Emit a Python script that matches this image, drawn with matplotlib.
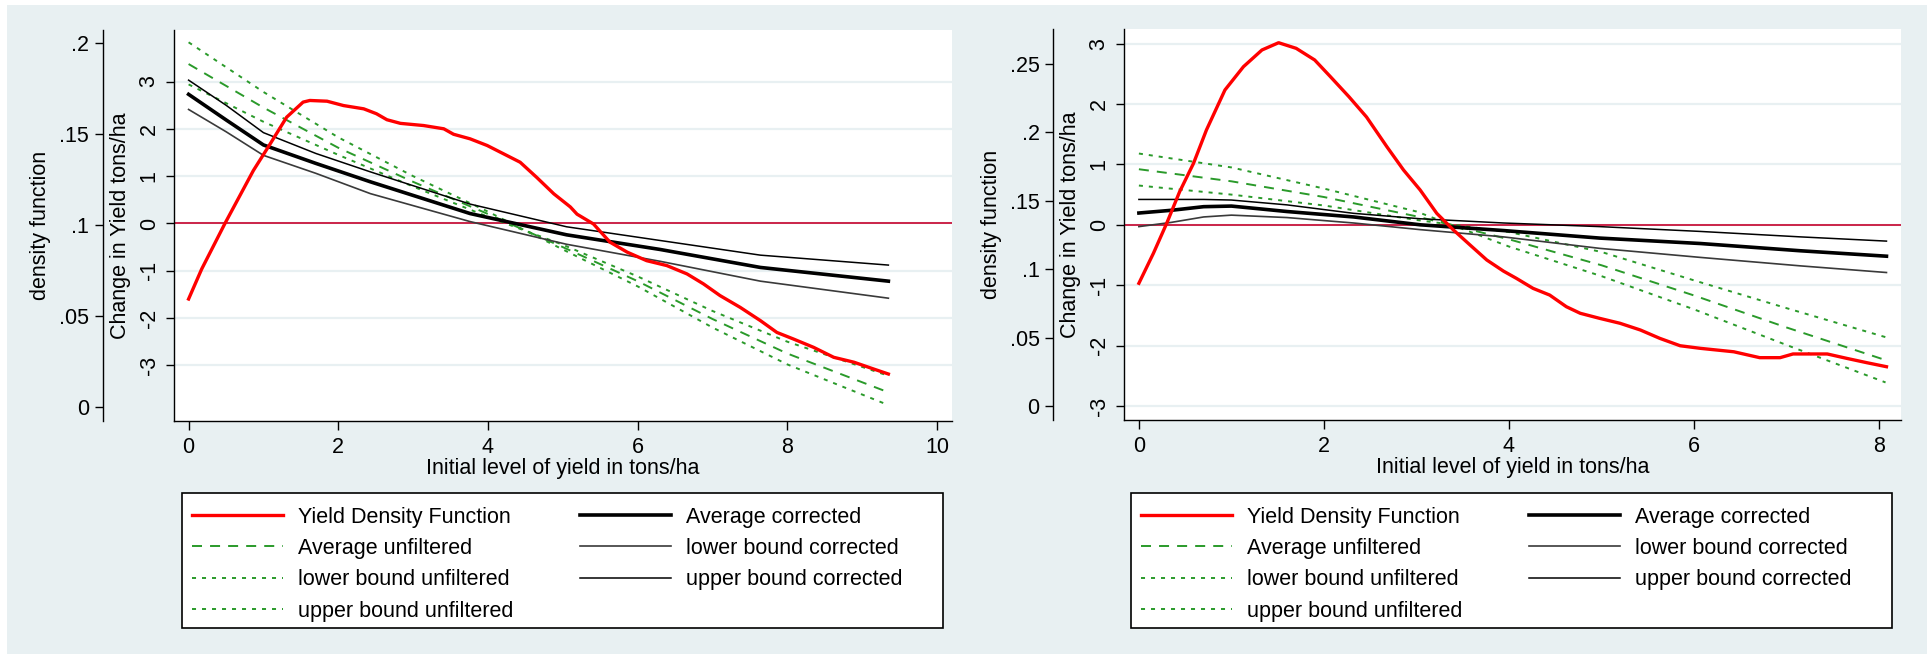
import matplotlib
matplotlib.use("Agg")
import matplotlib.pyplot as plt
from matplotlib.patches import Rectangle

W, H = 1927, 654
BG = "#e8f0f2"
RED = "#ff0000"
GREEN = "#2a9a2a"
ZERO = "#c8143c"

plt.rcParams["font.family"] = ["Liberation Sans", "DejaVu Sans"]
plt.rcParams["font.size"] = 15.5
plt.rcParams["lines.scale_dashes"] = False

# ---- left panel data ----
left_xticks = [0, 2, 4, 6, 8, 10]
left_dens_ticks = [0, 0.05, 0.1, 0.15, 0.2]
left_dens_labels = ["0", ".05", ".1", ".15", ".2"]

left_red_x = [0, 0.175, 0.487, 0.865, 1.09, 1.31, 1.53, 1.62, 1.85, 2.07, 2.34,
              2.51, 2.65, 2.83, 3.14, 3.41, 3.54, 3.76, 3.99, 4.21, 4.43, 4.65,
              4.88, 5.10, 5.19, 5.41, 5.63, 5.86, 6.12, 6.39, 6.66, 6.88, 7.10,
              7.37, 7.64, 7.86, 8.08, 8.35, 8.62, 8.89, 9.15, 9.35]
left_red_d = [0.0593, 0.0758, 0.101, 0.130, 0.1447, 0.1594, 0.1677, 0.1686,
              0.1682, 0.1658, 0.164, 0.1613, 0.158, 0.156, 0.1548, 0.153, 0.150,
              0.1475, 0.1438, 0.1392, 0.1346, 0.1263, 0.1172, 0.110, 0.106,
              0.1006, 0.0906, 0.0851, 0.0804, 0.0777, 0.0731, 0.0676, 0.0612,
              0.0547, 0.0474, 0.0409, 0.0373, 0.0327, 0.0272, 0.0245, 0.0208,
              0.018]

left_g_x = [0, 1, 2, 3, 4, 5, 6, 7, 8, 9.35]
left_g_avg = [3.37, 2.45, 1.60, 0.88, 0.20, -0.50, -1.22, -2.02, -2.75, -3.57]
left_g_lo = [2.94, 2.15, 1.45, 0.78, 0.14, -0.45, -1.12, -1.85, -2.50, -3.22]
left_g_hi = [3.83, 2.78, 1.82, 1.00, 0.25, -0.55, -1.33, -2.20, -2.98, -3.84]

left_b_x = [0, 0.5, 1, 1.7, 2.43, 3.76, 5.05, 6.3, 7.64, 9.35]
left_b_avg = [2.73, 2.19, 1.66, 1.27, 0.88, 0.21, -0.24, -0.55, -0.93, -1.22]
left_b_lo = [2.41, 1.94, 1.44, 1.06, 0.63, 0.04, -0.44, -0.80, -1.22, -1.58]
left_b_hi = [3.03, 2.50, 1.92, 1.48, 1.09, 0.41, -0.07, -0.36, -0.67, -0.88]

# ---- right panel data ----
right_xticks = [0, 2, 4, 6, 8]
right_dens_ticks = [0, 0.05, 0.1, 0.15, 0.2, 0.25]
right_dens_labels = ["0", ".05", ".1", ".15", ".2", ".25"]

right_red_x = [0, 0.157, 0.30, 0.44, 0.59, 0.73, 0.93, 1.13, 1.33, 1.51, 1.70,
               1.90, 2.07, 2.27, 2.46, 2.68, 2.86, 3.04, 3.22, 3.40, 3.58, 3.76,
               3.94, 4.08, 4.26, 4.44, 4.62, 4.77, 4.98, 5.20, 5.42, 5.63, 5.85,
               6.07, 6.43, 6.71, 6.93, 7.07, 7.44, 7.65, 7.87, 8.08]
right_red_d = [0.0896, 0.1115, 0.1333, 0.1564, 0.1771, 0.2015, 0.2307, 0.2477,
               0.2599, 0.2652, 0.2611, 0.2526, 0.2404, 0.2258, 0.2110, 0.1893,
               0.1723, 0.1577, 0.1406, 0.1285, 0.1175, 0.1066, 0.0985, 0.0932,
               0.0859, 0.081, 0.0725, 0.0677, 0.064, 0.0604, 0.0555, 0.0494,
               0.044, 0.0421, 0.0396, 0.0353, 0.0353, 0.038, 0.038, 0.0348,
               0.0316, 0.0287]

right_g_x = [0, 1, 2, 3, 4, 5, 6, 7, 8.07]
right_g_avg = [0.92, 0.72, 0.46, 0.14, -0.24, -0.67, -1.17, -1.70, -2.24]
right_g_lo = [0.65, 0.50, 0.32, 0.08, -0.12, -0.45, -0.92, -1.38, -1.86]
right_g_hi = [1.18, 0.95, 0.60, 0.22, -0.36, -0.85, -1.40, -1.99, -2.61]

right_b_x = [0, 0.35, 0.7, 1.0, 1.6, 2.32, 3.04, 3.94, 4.98, 6.07, 7.15, 8.08]
right_b_avg = [0.195, 0.24, 0.30, 0.31, 0.22, 0.13, 0.0, -0.095, -0.22, -0.31, -0.43, -0.52]
right_b_lo = [-0.03, 0.04, 0.13, 0.16, 0.12, 0.03, -0.08, -0.20, -0.39, -0.54, -0.68, -0.79]
right_b_hi = [0.42, 0.42, 0.42, 0.41, 0.33, 0.19, 0.10, 0.03, -0.03, -0.11, -0.20, -0.27]

change_ticks = [-3, -2, -1, 0, 1, 2, 3]
change_labels = ["-3", "-2", "-1", "0", "1", "2", "3"]

legend_labels = ["Yield Density Function", "Average unfiltered",
                 "lower bound unfiltered", "upper bound unfiltered",
                 "Average corrected", "lower bound corrected",
                 "upper bound corrected"]


def fig_box(x0, y0, x1, y1):
    # pixel box (top-left origin) -> figure fraction
    return [x0 / W, 1 - y1 / H, (x1 - x0) / W, (y1 - y0) / H]


fig = plt.figure(figsize=(W / 100, H / 100), dpi=100)
fig.patch.set_facecolor("white")
fig.add_artist(Rectangle((7 / W, 0), 1, 1 - 4.5 / H, transform=fig.transFigure,
                         facecolor=BG, edgecolor="none", zorder=-10))


def draw_panel(box, xlim, ylim, dlim, xticks, dticks, dlabels, offset,
               red_x, red_d, gx, g_avg, g_lo, g_hi, bx, b_avg, b_lo, b_hi,
               frame, anchor):
    ax = fig.add_axes(fig_box(*box))
    ax.set_facecolor("white")
    ax.set_xlim(xlim)
    ax.set_ylim(ylim)
    ax.set_xticks(xticks, labels=[str(t) for t in xticks])
    ax.set_yticks(change_ticks, labels=change_labels, rotation=90, va="center")
    ax.yaxis.grid(True, color=BG, lw=1.6)
    ax.set_axisbelow(True)
    ax.tick_params(axis="y", direction="out", length=5.8, width=1, pad=4.5)
    ax.tick_params(axis="x", direction="out", length=6.5, width=1, pad=5.3)
    for s in ["top", "right"]:
        ax.spines[s].set_visible(False)
    for s in ["left", "bottom"]:
        ax.spines[s].set_linewidth(1.0)
    ax.set_xlabel("Initial level of yield in tons/ha", labelpad=0)
    ax.set_ylabel("Change in Yield tons/ha", labelpad=5.5)

    ax.axhline(0, color=ZERO, lw=1.3, zorder=1.5)
    l_gavg, = ax.plot(gx, g_avg, color=GREEN, lw=1.4, dashes=(7.2, 5.8))
    l_glo, = ax.plot(gx, g_lo, color=GREEN, lw=1.4, dashes=(2.9, 4.3))
    l_ghi, = ax.plot(gx, g_hi, color=GREEN, lw=1.4, dashes=(2.9, 4.3))
    l_bavg, = ax.plot(bx, b_avg, color="black", lw=2.6)
    l_blo, = ax.plot(bx, b_lo, color="#3a3a3a", lw=1.2)
    l_bhi, = ax.plot(bx, b_hi, color="black", lw=1.1)

    axd = ax.twinx()
    axd.set_ylim(dlim)
    axd.yaxis.tick_left()
    axd.yaxis.set_label_position("left")
    axd.set_yticks(dticks, labels=dlabels, rotation=90, va="center")
    axd.tick_params(axis="y", direction="out", length=5.8, width=1, pad=4)
    for s in ["top", "right", "bottom"]:
        axd.spines[s].set_visible(False)
    axd.spines["left"].set_visible(True)
    axd.spines["left"].set_linewidth(1.0)
    axd.spines["left"].set_position(("outward", offset))
    axd.set_ylabel("density function", labelpad=5.7)
    l_red, = axd.plot(red_x, red_d, color=RED, lw=2.4)

    fig.add_artist(Rectangle((frame[0] / W, 1 - frame[3] / H),
                             (frame[2] - frame[0]) / W,
                             (frame[3] - frame[1]) / H,
                             transform=fig.transFigure, facecolor="white",
                             edgecolor="black", lw=1.2, zorder=1))
    handles = [l_red, l_gavg, l_glo, l_ghi, l_bavg, l_blo, l_bhi]
    fig.legend(handles, legend_labels, loc="upper left",
               bbox_to_anchor=(anchor[0] / W, 1 - anchor[1] / H),
               bbox_transform=fig.transFigure, ncol=2, frameon=False,
               borderpad=0, borderaxespad=0, handlelength=4.23,
               handletextpad=0.70, columnspacing=3.08, labelspacing=0.48)


draw_panel((174, 30, 952, 420.7), (-0.195, 10.2), (-4.17, 4.09),
           (-0.0077, 0.2074), left_xticks, left_dens_ticks, left_dens_labels,
           51.3, left_red_x, left_red_d, left_g_x, left_g_avg, left_g_lo,
           left_g_hi, left_b_x, left_b_avg, left_b_lo, left_b_hi,
           (182.3, 493.3, 943, 628.3), (192.3, 506.5))

draw_panel((1124, 29.3, 1901, 420), (-0.161, 8.237), (-3.232, 3.237),
           (-0.0102, 0.275), right_xticks, right_dens_ticks, right_dens_labels,
           50.9, right_red_x, right_red_d, right_g_x, right_g_avg, right_g_lo,
           right_g_hi, right_b_x, right_b_avg, right_b_lo, right_b_hi,
           (1131, 493.3, 1892, 628.3), (1141, 506.5))

fig.savefig("out.png", dpi=100, facecolor=fig.get_facecolor())
